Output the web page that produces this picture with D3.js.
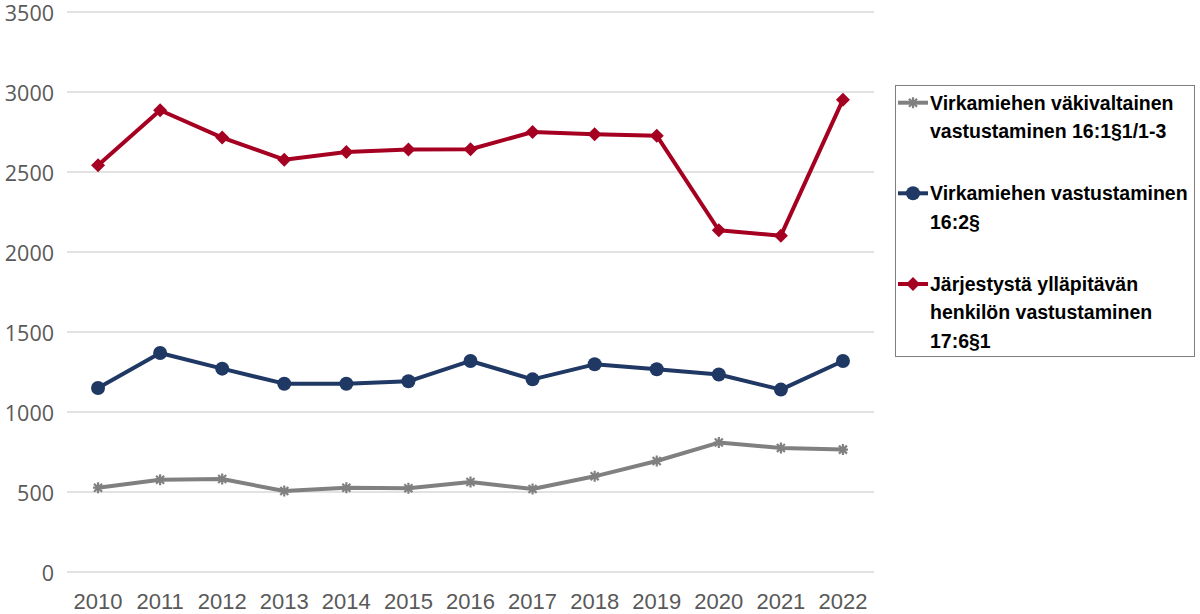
<!DOCTYPE html>
<html lang="fi">
<head>
<meta charset="UTF-8">
<title>Virkamiehen vastustaminen 2010-2022</title>
<script src="https://cdn.jsdelivr.net/npm/d3@7"></script>
<style>
  body { margin: 0; background: #fff; }
</style>
</head>
<body>
<svg class="root"></svg>
<script>
  const years = ["2010","2011","2012","2013","2014","2015","2016","2017","2018","2019","2020","2021","2022"];
  const vakivaltainen = [527, 577, 581, 506, 527, 523, 562, 519, 598, 694, 809, 775, 765];
  const vastustaminen = [1150, 1369, 1271, 1177, 1177, 1192, 1319, 1204, 1298, 1267, 1234, 1140, 1319];
  const jarjestys = [2542, 2886, 2715, 2577, 2625, 2640, 2642, 2750, 2736, 2727, 2136, 2102, 2952];
  const yTicks = [0, 500, 1000, 1500, 2000, 2500, 3000, 3500];

  const series = [
    { name: ["Virkamiehen väkivaltainen", "vastustaminen 16:1§1/1-3"], values: vakivaltainen, color: "#808080", marker: "star" },
    { name: ["Virkamiehen vastustaminen", "16:2§"], values: vastustaminen, color: "#1f3864", marker: "circle" },
    { name: ["Järjestystä ylläpitävän", "henkilön vastustaminen", "17:6§1"], values: jarjestys, color: "#a50021", marker: "diamond" }
  ];

  const width = 1200, height = 614;
  const margin = { top: 12, right: 326, bottom: 42, left: 67 };

  const svg = d3.select(".root")
    .attr("width", width)
    .attr("height", height);

  const x = d3.scalePoint()
    .domain(years)
    .range([margin.left, width - margin.right])
    .padding(0.5);

  const y = d3.scaleLinear()
    .domain([0, 3500])
    .range([height - margin.bottom, margin.top]);

  // grid
  svg.append("g")
    .selectAll("line")
    .data(yTicks)
    .join("line")
    .attr("x1", margin.left)
    .attr("x2", width - margin.right)
    .attr("y1", d => y(d))
    .attr("y2", d => y(d))
    .attr("stroke", "#d9d9d9")
    .attr("stroke-width", 1.5);

  // y labels
  svg.append("g")
    .attr("font-family", "'Open Sans', sans-serif")
    .attr("font-size", 21.5)
    .attr("fill", "#595959")
    .attr("text-anchor", "end")
    .selectAll("text")
    .data(yTicks)
    .join("text")
    .attr("x", 54)
    .attr("y", d => y(d) + 1)
    .attr("dy", "0.35em")
    .text(d => d);

  // x labels
  svg.append("g")
    .attr("font-family", "'Liberation Sans Narrow', sans-serif")
    .attr("font-size", 22)
    .attr("fill", "#595959")
    .attr("text-anchor", "middle")
    .selectAll("text")
    .data(years)
    .join("text")
    .attr("x", d => x(d))
    .attr("y", 609)
    .text(d => d);

  const line = d3.line()
    .x((d, i) => x(years[i]))
    .y(d => y(d));

  function drawMarker(g, type, color) {
    if (type === "circle") {
      g.append("circle").attr("r", 7).attr("fill", color);
    } else if (type === "diamond") {
      g.append("path").attr("d", "M0,-7L7,0L0,7L-7,0Z").attr("fill", color);
    } else {
      g.append("path")
        .attr("d", "M-4,-4L4,4M-4,4L4,-4M0,-5.5L0,5.5M-5,0L5,0")
        .attr("stroke", color)
        .attr("stroke-width", 2.2)
        .attr("fill", "none");
    }
  }

  series.forEach(s => {
    svg.append("path")
      .datum(s.values)
      .attr("d", line)
      .attr("fill", "none")
      .attr("stroke", s.color)
      .attr("stroke-width", 4)
      .attr("stroke-linejoin", "round");

    svg.append("g")
      .selectAll("g")
      .data(s.values)
      .join("g")
      .attr("transform", (d, i) => `translate(${x(years[i])},${y(d)})`)
      .each(function () { drawMarker(d3.select(this), s.marker, s.color); });
  });

  // legend
  const legend = svg.append("g");
  legend.append("rect")
    .attr("x", 895.5)
    .attr("y", 85.5)
    .attr("width", 299)
    .attr("height", 271)
    .attr("fill", "#fff")
    .attr("stroke", "#7f7f7f")
    .attr("stroke-width", 1);

  const lineH = 28.6;
  const rowTop = [102.7, 193.3, 284];
  series.forEach((s, i) => {
    const row = legend.append("g").attr("transform", `translate(0,${rowTop[i]})`);
    row.append("line")
      .attr("x1", 898).attr("x2", 928)
      .attr("stroke", s.color).attr("stroke-width", 4);
    const m = row.append("g").attr("transform", "translate(913,0)");
    drawMarker(m, s.marker, s.color);
    row.append("text")
      .attr("font-family", "'Liberation Sans', sans-serif")
      .attr("font-weight", "bold")
      .attr("font-size", 19.5)
      .attr("fill", "#000")
      .selectAll("tspan")
      .data(s.name)
      .join("tspan")
      .attr("x", 930)
      .attr("y", (d, j) => j * lineH)
      .attr("dy", "0.35em")
      .text(d => d);
  });
</script>
</body>
</html>
